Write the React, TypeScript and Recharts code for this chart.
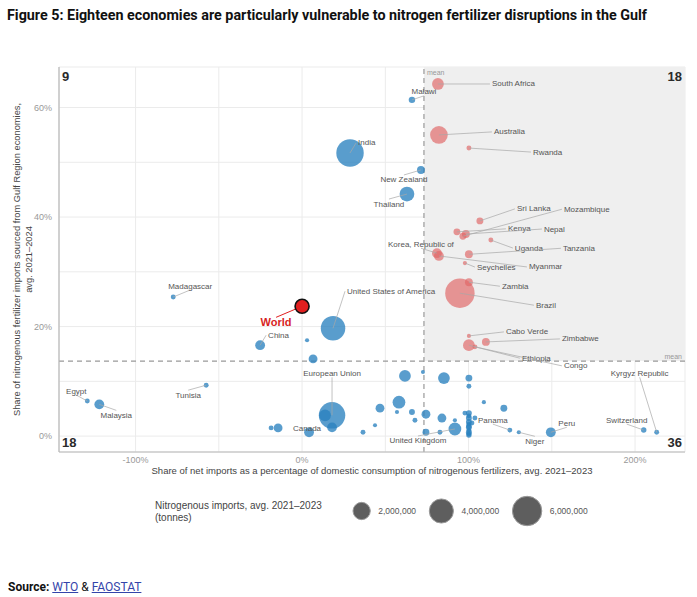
import {
  CartesianGrid,
  Label,
  ReferenceArea,
  ReferenceLine,
  Scatter,
  ScatterChart,
  XAxis,
  YAxis,
  ZAxis,
} from "recharts";

const SANS = "'Liberation Sans', Arial, Helvetica, sans-serif";

type Economy = { name?: string; x: number; y: number; tonnes: number };

// x: net imports as % of domestic consumption, y: % of imports sourced from the Gulf,
// tonnes: average nitrogenous imports 2021–2023
const VULNERABLE: Economy[] = [
  { name: "South Africa", x: 81.6, y: 64.3, tonnes: 900000 },
  { name: "Australia", x: 82.2, y: 55.0, tonnes: 2180000 },
  { name: "Rwanda", x: 100.2, y: 52.6, tonnes: 60000 },
  { name: "Sri Lanka", x: 106.8, y: 39.3, tonnes: 230000 },
  { name: "Kenya", x: 93.0, y: 37.3, tonnes: 230000 },
  { name: "Nepal", x: 98.4, y: 36.9, tonnes: 340000 },
  { name: "Mozambique", x: 96.6, y: 36.5, tonnes: 230000 },
  { name: "Uganda", x: 113.4, y: 35.8, tonnes: 60000 },
  { name: "Tanzania", x: 100.2, y: 33.2, tonnes: 340000 },
  { name: "Korea, Republic of", x: 81.0, y: 33.4, tonnes: 590000 },
  { name: "Myanmar", x: 82.2, y: 32.9, tonnes: 590000 },
  { name: "Seychelles", x: 97.8, y: 31.6, tonnes: 10000 },
  { name: "Zambia", x: 100.2, y: 28.1, tonnes: 340000 },
  { name: "Brazil", x: 94.8, y: 26.1, tonnes: 6250000 },
  { name: "Cabo Verde", x: 100.2, y: 18.3, tonnes: 5000 },
  { name: "Zimbabwe", x: 110.4, y: 17.2, tonnes: 340000 },
  { name: "Ethiopia", x: 100.2, y: 16.6, tonnes: 900000 },
  { name: "Congo", x: 103.8, y: 16.3, tonnes: 60000 },
];

const OTHERS: Economy[] = [
  // above the Gulf-share mean
  { name: "Malawi", x: 66.0, y: 61.4, tonnes: 190000 },
  { name: "India", x: 28.8, y: 51.7, tonnes: 5430000 },
  { name: "New Zealand", x: 71.4, y: 48.6, tonnes: 340000 },
  { name: "Thailand", x: 63.0, y: 44.2, tonnes: 1480000 },
  { name: "United States of America", x: 18.6, y: 19.7, tonnes: 4300000 },
  { name: "China", x: -25.2, y: 16.6, tonnes: 590000 },
  { name: "Madagascar", x: -77.4, y: 25.4, tonnes: 60000 },
  { x: 3.0, y: 17.5, tonnes: 10000 },
  { x: 6.6, y: 14.1, tonnes: 460000 },
  // below the mean, left of the import-share mean
  { name: "Egypt", x: -129.0, y: 6.4, tonnes: 60000 },
  { name: "Malaysia", x: -121.8, y: 5.8, tonnes: 590000 },
  { name: "Tunisia", x: -57.6, y: 9.3, tonnes: 60000 },
  { name: "European Union", x: 18.0, y: 3.8, tonnes: 5040000 },
  { x: 13.8, y: 3.8, tonnes: 900000 },
  { x: 18.0, y: 1.6, tonnes: 590000 },
  { name: "Canada", x: 4.2, y: 0.7, tonnes: 590000 },
  { x: -14.4, y: 1.5, tonnes: 460000 },
  { x: -18.6, y: 1.5, tonnes: 60000 },
  { x: 36.6, y: 0.7, tonnes: 60000 },
  { x: 43.8, y: 2.0, tonnes: 2000 },
  { x: 46.8, y: 5.1, tonnes: 460000 },
  { x: 57.0, y: 4.4, tonnes: 10000 },
  { x: 58.2, y: 6.2, tonnes: 1080000 },
  { x: 66.0, y: 4.4, tonnes: 140000 },
  { x: 61.8, y: 11.0, tonnes: 900000 },
  { x: 72.6, y: 11.7, tonnes: 2000 },
  { x: 67.8, y: 2.9, tonnes: 60000 },
  // below the mean, right of the import-share mean
  { x: 74.4, y: 4.0, tonnes: 460000 },
  { x: 74.4, y: 0.7, tonnes: 230000 },
  { x: 82.8, y: 0.7, tonnes: 60000 },
  { x: 84.0, y: 3.3, tonnes: 460000 },
  { x: 85.2, y: 10.6, tonnes: 900000 },
  { x: 91.8, y: 2.9, tonnes: 10000 },
  { name: "United Kingdom", x: 91.8, y: 1.3, tonnes: 1080000 },
  { x: 100.2, y: 10.6, tonnes: 230000 },
  { x: 100.2, y: 9.1, tonnes: 60000 },
  { x: 100.2, y: 4.2, tonnes: 140000 },
  { x: 100.2, y: 3.3, tonnes: 140000 },
  { x: 100.2, y: 2.6, tonnes: 140000 },
  { x: 100.2, y: 1.6, tonnes: 140000 },
  { x: 100.2, y: 0.7, tonnes: 140000 },
  { x: 100.2, y: 0.2, tonnes: 100000 },
  { x: 100.2, y: 1.1, tonnes: 60000 },
  { x: 100.2, y: 1.9, tonnes: 100000 },
  { x: 100.2, y: 3.7, tonnes: 60000 },
  { x: 100.2, y: 0.4, tonnes: 60000 },
  { x: 100.2, y: 2.2, tonnes: 30000 },
  { x: 97.8, y: 4.2, tonnes: 60000 },
  { x: 103.8, y: 3.3, tonnes: 60000 },
  { x: 102.0, y: 2.4, tonnes: 60000 },
  { x: 109.2, y: 6.2, tonnes: 10000 },
  { x: 121.2, y: 5.1, tonnes: 230000 },
  { name: "Panama", x: 124.8, y: 1.1, tonnes: 60000 },
  { name: "Niger", x: 130.2, y: 0.7, tonnes: 10000 },
  { name: "Peru", x: 149.4, y: 0.7, tonnes: 590000 },
  { name: "Switzerland", x: 205.2, y: 1.1, tonnes: 100000 },
  { name: "Kyrgyz Republic", x: 213.0, y: 0.7, tonnes: 60000 },
];

const WORLD = [{ name: "World", x: 0, y: 23.7 }];

const MEAN_X = 73.2;
const MEAN_Y = 13.7;

const X_DOMAIN: [number, number] = [-146, 230];
const Y_DOMAIN: [number, number] = [-2.9, 67.4];
const X_TICKS = [-100, -50, 0, 50, 100, 150, 200];
const Y_TICKS = [0, 10, 20, 30, 40, 50, 60];

const Z_DOMAIN: [number, number] = [0, 6000000];
const Z_RANGE: [number, number] = [12.6, 679];
const LEGEND_SIZES = [2000000, 4000000, 6000000];

// counts per quadrant: top-left, top-right, bottom-left, bottom-right
const QUADRANT_COUNTS = [9, 18, 18, 36];

// label offset from the point (px) and text anchor
const LABEL_SPOTS: Record<string, [number, number, "start" | "middle" | "end"]> = {
  "South Africa": [54, 0, "start"],
  Australia: [55, -3, "start"],
  Rwanda: [64, 4, "start"],
  "Sri Lanka": [37, -12, "start"],
  Mozambique: [101, -27, "start"],
  Kenya: [51, -3, "start"],
  Nepal: [78, -5, "start"],
  Uganda: [24, 8, "start"],
  Tanzania: [94, -6, "start"],
  "Korea, Republic of": [-16, -9, "middle"],
  Myanmar: [90, 11, "start"],
  Seychelles: [12, 4, "start"],
  Zambia: [33, 4, "start"],
  Brazil: [76, 12, "start"],
  "Cabo Verde": [37, -4, "start"],
  Zimbabwe: [76, -3, "start"],
  Ethiopia: [53, 13, "start"],
  Congo: [89, 19, "start"],
  Malawi: [12, -8, "middle"],
  India: [8, -10, "start"],
  "New Zealand": [-17, 10, "middle"],
  Thailand: [-18, 10, "middle"],
  "United States of America": [14, -37, "start"],
  China: [8, -10, "start"],
  Madagascar: [17, -11, "middle"],
  "European Union": [0, -42, "middle"],
  Egypt: [-11, -10, "middle"],
  Malaysia: [17, 11, "middle"],
  Tunisia: [-18, 10, "middle"],
  Canada: [-2, -4, "middle"],
  "United Kingdom": [-37, 12, "middle"],
  Panama: [-17, -10, "middle"],
  Niger: [16, 9, "middle"],
  Peru: [16, -9, "middle"],
  Switzerland: [-17, -10, "middle"],
  "Kyrgyz Republic": [-17, -59, "middle"],
  World: [-26, 16, "middle"],
};

const LABELLED = [...VULNERABLE, ...OTHERS, ...WORLD].filter(
  (d) => d.name && LABEL_SPOTS[d.name]
);

const bubbleArea = (t: number) =>
  Z_RANGE[0] + ((Z_RANGE[1] - Z_RANGE[0]) * t) / Z_DOMAIN[1];

function bubble(fill: string, opacity: number) {
  return (props: any) => {
    const { cx, cy, width } = props;
    if (cx == null || cy == null) return <g />;
    return <circle cx={cx} cy={cy} r={width / 2} fill={fill} fillOpacity={opacity} />;
  };
}

function WorldDot(props: any) {
  const { cx, cy } = props;
  return <circle cx={cx} cy={cy} r={7} fill="#e11f1f" stroke="#111" strokeWidth={1.6} />;
}

function PointLabel(props: any) {
  const { cx, cy, payload } = props;
  const spot = LABEL_SPOTS[payload.name];
  if (!spot || cx == null) return <g />;
  const [dx, dy, anchor] = spot;
  const tx = cx + dx;
  const ty = cy + dy;
  const isWorld = payload.name === "World";
  let ex = tx;
  let ey = ty;
  if (anchor === "start") ex = tx - 2;
  else if (anchor === "end") ex = tx + 2;
  else ey = ty + (dy < 0 ? 4 : -5);
  const far = Math.hypot(ex - cx, ey - cy) > 7;
  return (
    <g>
      {far && (
        <line
          x1={cx}
          y1={cy}
          x2={ex}
          y2={ey}
          stroke={isWorld ? "#e11f1f" : "#a8a8a8"}
          strokeWidth={isWorld ? 1 : 0.7}
        />
      )}
      <text
        x={tx}
        y={ty}
        textAnchor={anchor}
        dominantBaseline="central"
        fontFamily={SANS}
        fontSize={isWorld ? 11 : 8}
        fontWeight={isWorld ? 700 : 400}
        fill={isWorld ? "#d71f1f" : "#555"}
      >
        {payload.name}
      </text>
    </g>
  );
}

function QuadrantCounts(props: any) {
  const { x, y, width, height } = props.viewBox;
  const style = { fontFamily: SANS, fontSize: 13, fontWeight: 700, fill: "#2a2a2a" };
  const [tl, tr, bl, br] = QUADRANT_COUNTS;
  return (
    <g>
      <text x={x + 3} y={y + 9} dominantBaseline="central" {...style}>{tl}</text>
      <text x={x + width - 3} y={y + 9} textAnchor="end" dominantBaseline="central" {...style}>{tr}</text>
      <text x={x + 3} y={y + height - 10} dominantBaseline="central" {...style}>{bl}</text>
      <text x={x + width - 3} y={y + height - 10} textAnchor="end" dominantBaseline="central" {...style}>{br}</text>
    </g>
  );
}

function MeanTagV(props: any) {
  const { x, y } = props.viewBox;
  return (
    <text x={x + 3} y={y + 5} dominantBaseline="central" fontFamily={SANS} fontSize={7} fill="#999">
      mean
    </text>
  );
}

function MeanTagH(props: any) {
  const { x, y, width } = props.viewBox;
  return (
    <text x={x + width - 3} y={y - 5} textAnchor="end" dominantBaseline="central" fontFamily={SANS} fontSize={7} fill="#999">
      mean
    </text>
  );
}

function XTitle(props: any) {
  const { x, y, width } = props.viewBox;
  return (
    <text x={x + width / 2} y={y + 18} textAnchor="middle" dominantBaseline="central" fontFamily={SANS} fontSize={9.5} fill="#444">
      Share of net imports as a percentage of domestic consumption of nitrogenous fertilizers, avg. 2021–2023
    </text>
  );
}

function YTitle(props: any) {
  const { y, height } = props.viewBox;
  const cy = y + height / 2;
  const common = {
    textAnchor: "middle" as const,
    dominantBaseline: "central" as const,
    fontFamily: SANS,
    fontSize: 9.3,
    fill: "#444",
  };
  return (
    <g>
      <text x={17} y={cy} transform={`rotate(-90 17 ${cy})`} {...common}>
        Share of nitrogenous fertilizer imports sourced from Gulf Region economies,
      </text>
      <text x={29} y={cy} transform={`rotate(-90 29 ${cy})`} {...common}>
        avg. 2021–2024
      </text>
    </g>
  );
}

function SizeLegend() {
  let cursor = 353;
  const items = LEGEND_SIZES.map((t) => {
    const r = Math.sqrt(bubbleArea(t) / Math.PI);
    const cx = cursor + r;
    const lx = cx + r + 8;
    cursor = lx + 51;
    return { t, r, cx, lx };
  });
  return (
    <svg width={697} height={60} style={{ position: "absolute", left: 0, top: 480 }}>
      <text x={155} y={25} dominantBaseline="central" fontFamily={SANS} fontSize={10} fill="#444">
        Nitrogenous imports, avg. 2021–2023
      </text>
      <text x={155} y={37} dominantBaseline="central" fontFamily={SANS} fontSize={10} fill="#444">
        (tonnes)
      </text>
      {items.map((it) => (
        <g key={it.t}>
          <circle cx={it.cx} cy={31} r={it.r} fill="#5e5e5e" stroke="#9a9a9a" strokeWidth={1} />
          <text x={it.lx} y={31} dominantBaseline="central" fontFamily={SANS} fontSize={8.5} fill="#555">
            {it.t.toLocaleString("en-US")}
          </text>
        </g>
      ))}
    </svg>
  );
}

export default function App() {
  return (
    <div style={{ position: "absolute", left: 0, top: 0, width: 697, height: 597, background: "#fff" }}>
      <svg width={697} height={30} style={{ position: "absolute", left: 0, top: 0 }}>
        <text
          x={7}
          y={15}
          dominantBaseline="central"
          fontFamily="'Liberation Sans Narrow', 'Roboto', sans-serif"
          fontWeight={700}
          fontSize={14.5}
          fill="#111"
          textLength={640}
          lengthAdjust="spacingAndGlyphs"
        >
          Figure 5: Eighteen economies are particularly vulnerable to nitrogen fertilizer disruptions in the Gulf
        </text>
      </svg>

      <div style={{ position: "absolute", left: 0, top: 0 }}>
        <ScatterChart width={697} height={480} margin={{ top: 67, right: 12, bottom: 8, left: 9 }}>
          <ReferenceArea
            x1={MEAN_X}
            x2={X_DOMAIN[1]}
            y1={MEAN_Y}
            y2={Y_DOMAIN[1]}
            fill="#efefef"
            fillOpacity={1}
            stroke="none"
          />
          <CartesianGrid stroke="#ebebeb" strokeWidth={1} />
          <XAxis
            type="number"
            dataKey="x"
            domain={X_DOMAIN}
            ticks={X_TICKS}
            allowDataOverflow
            height={20}
            tickLine={false}
            tickSize={3}
            tickMargin={2}
            axisLine={{ stroke: "#b8b8b8", strokeWidth: 1.2 }}
            tick={{ fontSize: 9, fill: "#999", fontFamily: SANS }}
            tickFormatter={(v: number) => (v % 100 === 0 ? `${v}%` : "")}
          >
            <Label content={XTitle} />
          </XAxis>
          <YAxis
            type="number"
            dataKey="y"
            domain={Y_DOMAIN}
            ticks={Y_TICKS}
            allowDataOverflow
            width={50}
            tickLine={false}
            tickSize={5}
            tickMargin={2}
            axisLine={{ stroke: "#b8b8b8", strokeWidth: 1.2 }}
            tick={{ fontSize: 9, fill: "#999", fontFamily: SANS }}
            tickFormatter={(v: number) => (v % 20 === 0 ? `${v}%` : "")}
          >
            <Label content={YTitle} />
          </YAxis>
          <ZAxis type="number" dataKey="tonnes" domain={Z_DOMAIN} range={Z_RANGE} />
          <ReferenceLine x={MEAN_X} stroke="#999" strokeWidth={1.2} strokeDasharray="5 4">
            <Label content={MeanTagV} />
          </ReferenceLine>
          <ReferenceLine y={MEAN_Y} stroke="#999" strokeWidth={1.2} strokeDasharray="5 4">
            <Label content={MeanTagH} />
          </ReferenceLine>
          <ReferenceArea
            x1={X_DOMAIN[0]}
            x2={X_DOMAIN[1]}
            y1={Y_DOMAIN[0]}
            y2={Y_DOMAIN[1]}
            fillOpacity={0}
            stroke="none"
          >
            <Label content={QuadrantCounts} />
          </ReferenceArea>
          <Scatter data={OTHERS} shape={bubble("#2a82bf", 0.78)} isAnimationActive={false} />
          <Scatter data={VULNERABLE} shape={bubble("#e06767", 0.68)} isAnimationActive={false} />
          <Scatter data={LABELLED} shape={PointLabel} isAnimationActive={false} />
          <Scatter data={WORLD} shape={WorldDot} isAnimationActive={false} />
        </ScatterChart>
      </div>

      <SizeLegend />

      <div
        style={{
          position: "absolute",
          left: 8,
          top: 580,
          fontFamily: "Roboto, Arial, sans-serif",
          fontSize: 12,
          color: "#111",
        }}
      >
        <b>Source:</b>{" "}
        <a href="#" style={{ color: "#3344aa" }}>WTO</a> &amp;{" "}
        <a href="#" style={{ color: "#3344aa" }}>FAOSTAT</a>
      </div>
    </div>
  );
}
